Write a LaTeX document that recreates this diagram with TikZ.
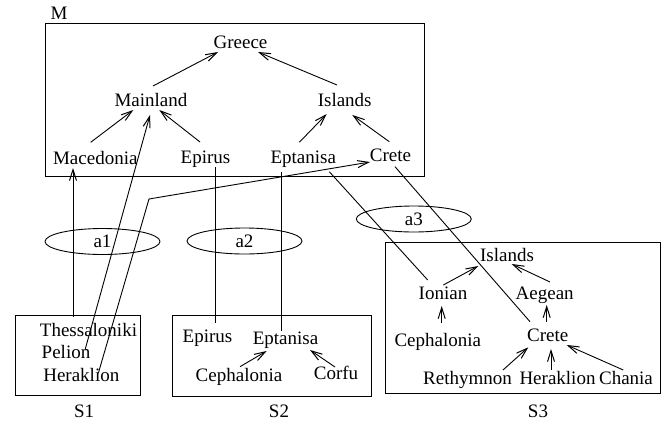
\documentclass[tikz,border=0pt]{standalone}
\usepackage{fontspec}
\setmainfont{Liberation Serif}
\usetikzlibrary{arrows.meta,shapes.geometric}
\begin{document}
\begin{tikzpicture}[x=1pt,y=-1pt,
  lbl/.style={font=\fontsize{19}{23}\selectfont, inner sep=2pt,
    text height=13pt, text depth=4pt, anchor=base},
  frame/.style={draw, line width=0.9pt, inner sep=0pt},
  link/.style={line width=0.9pt},
  isa/.style={link, -{Straight Barb[length=11pt,width=7pt,line width=1pt]}},
  corr/.style={draw, ellipse, line width=0.9pt, minimum width=115pt,
    minimum height=26pt, inner sep=0pt, font=\fontsize{19}{23}\selectfont}
]
\useasboundingbox (0,0) rectangle (671,423);

% frames of the three sources and the mediated schema
\node[frame, minimum width=378.6pt, minimum height=153pt] (M) at (235,100.2) {};
\node[frame, minimum width=124.3pt, minimum height=80pt] (S1) at (77.9,355.5) {};
\node[frame, minimum width=198.7pt, minimum height=81pt] (S2) at (271.7,355.8) {};
\node[frame, minimum width=275pt, minimum height=151pt] (S3) at (522.5,317.8) {};

\node[lbl] (lM) at (59,19) {M};
\node[lbl] (lS1) at (84.2,417) {S1};
\node[lbl] (lS2) at (279,417) {S2};
\node[lbl] (lS3) at (538,417) {S3};

% mediated schema M
\node[lbl] (mgre) at (240.5,48) {Greece};
\node[lbl] (mmain) at (151,106) {Mainland};
\node[lbl] (misl) at (344.7,106) {Islands};
\node[lbl] (mmac) at (95.3,164) {Macedonia};
\node[lbl] (mep) at (205.5,163.5) {Epirus};
\node[lbl] (mept) at (303.3,163.5) {Eptanisa};
\node[lbl] (mcre) at (390.5,161) {Crete};

\draw[isa] ([shift={(2,-20)}]mmain.base) -- ([shift={(-22.5,4)}]mgre.base);
\draw[isa] ([shift={(-7.7,-21)}]misl.base) -- ([shift={(17.5,4)}]mgre.base);
\draw[isa] ([shift={(-4.6,-21.7)}]mmac.base) -- ([shift={(-17.7,4)}]mmain.base);
\draw[isa] ([shift={(-5.5,-21.5)}]mep.base) -- ([shift={(8.3,4)}]mmain.base);
\draw[isa] ([shift={(-4,-21.2)}]mept.base) -- ([shift={(-18,8)}]misl.base);
\draw[isa] ([shift={(-1.2,-19.3)}]mcre.base) -- ([shift={(7.6,9)}]misl.base);

% source S1
\node[lbl] (s1the) at (88.5,336) {Thessaloniki};
\node[lbl] (s1pel) at (66,358.3) {Pelion};
\node[lbl] (s1her) at (81.3,381.7) {Heraklion};

% source S2
\node[lbl] (s2ep) at (207.5,342.7) {Epirus};
\node[lbl] (s2ept) at (285.5,344) {Eptanisa};
\node[lbl] (s2cep) at (239,381) {Cephalonia};
\node[lbl] (s2cor) at (336,379.3) {Corfu};

\draw[isa] ([shift={(1,-14.3)}]s2cep.base) -- ([shift={(-18.8,7)}]s2ept.base);
\draw[isa] ([shift={(-1,-12.3)}]s2cor.base) -- ([shift={(24.5,6)}]s2ept.base);

% source S3
\node[lbl] (s3isl) at (507,261.7) {Islands};
\node[lbl] (s3ion) at (443,299) {Ionian};
\node[lbl] (s3aeg) at (544.7,299) {Aegean};
\node[lbl] (s3cep) at (437.8,346.7) {Cephalonia};
\node[lbl] (s3cre) at (547.8,341) {Crete};
\node[lbl] (s3ret) at (467.5,384) {Rethymnon};
\node[lbl] (s3her) at (557.5,384) {Heraklion};
\node[lbl] (s3cha) at (626,384) {Chania};

\draw[isa] ([shift={(0.3,-14)}]s3ion.base) -- ([shift={(-28.7,4.3)}]s3isl.base);
\draw[isa] ([shift={(5.3,-17)}]s3aeg.base) -- ([shift={(4.7,2.3)}]s3isl.base);
\draw[isa] ([shift={(3.9,-23.4)}]s3cep.base) -- ([shift={(-1.3,7)}]s3ion.base);
\draw[isa] ([shift={(-1.1,-19.3)}]s3cre.base) -- ([shift={(2,6)}]s3aeg.base);
\draw[isa] ([shift={(35.5,-14)}]s3ret.base) -- ([shift={(-19.5,6.3)}]s3cre.base);
\draw[isa] ([shift={(-6.5,-14)}]s3her.base) -- ([shift={(3.2,8)}]s3cre.base);
\draw[isa] ([shift={(-2.7,-14)}]s3cha.base) -- ([shift={(18.9,4)}]s3cre.base);

% correspondences
\node[corr] (a1) at (102.5,241.5) {a1};
\node[corr] (a2) at (244.5,241) {a2};
\node[corr] (a3) at (413.8,219) {a3};

\coordinate (bend) at (149,199);
\draw[isa] ([shift={(-15.5,-19.3)}]s1the.base) -- ([shift={(-22.3,4)}]mmac.base);
\draw[isa] ([shift={(19,-8.3)}]s1pel.base) -- ([shift={(-1,9)}]mmain.base);
\draw[isa] ([shift={(17,-8.4)}]s1her.base) -- (bend) -- ([shift={(-20.5,1)}]mcre.base);
\draw[link] ([shift={(9.5,3.5)}]mep.base) -- ([shift={(7.5,-20)}]s2ep.base);
\draw[link] ([shift={(-21.6,8.5)}]mept.base) -- ([shift={(-3.8,-13.3)}]s2ept.base);
\draw[link] ([shift={(26,8.2)}]mept.base) -- ([shift={(-15.3,-19)}]s3ion.base);
\draw[link] ([shift={(4.5,5.7)}]mcre.base) -- ([shift={(-17.8,-19.3)}]s3cre.base);
\end{tikzpicture}
\end{document}
